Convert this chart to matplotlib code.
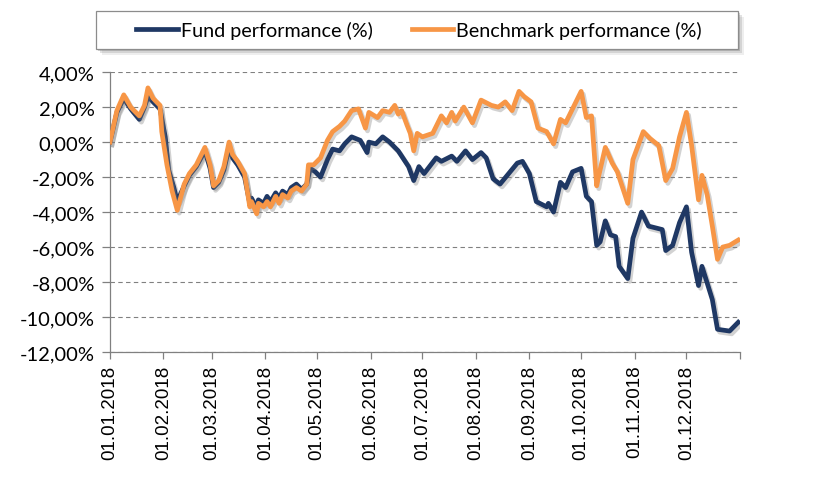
import pandas as pd
import matplotlib
matplotlib.use("Agg")
import matplotlib.pyplot as plt
import matplotlib.dates as mdates
import matplotlib.patheffects as pe
from matplotlib.patches import Rectangle
from matplotlib.ticker import FuncFormatter, FixedLocator

# fund performance (%)
fund_dates = [
    "2018-01-01", "2018-01-05", "2018-01-09", "2018-01-13", "2018-01-18", "2018-01-21",
    "2018-01-23", "2018-01-26", "2018-01-30", "2018-02-02", "2018-02-04", "2018-02-07",
    "2018-02-09", "2018-02-13", "2018-02-16", "2018-02-20", "2018-02-25", "2018-02-28",
    "2018-03-02", "2018-03-05", "2018-03-08", "2018-03-11", "2018-03-13", "2018-03-16",
    "2018-03-20", "2018-03-23", "2018-03-24", "2018-03-27", "2018-03-28", "2018-03-31",
    "2018-04-02", "2018-04-04", "2018-04-07", "2018-04-09", "2018-04-11", "2018-04-14",
    "2018-04-16", "2018-04-19", "2018-04-22", "2018-04-25", "2018-04-27", "2018-04-30",
    "2018-05-03", "2018-05-07", "2018-05-10", "2018-05-14", "2018-05-17", "2018-05-21",
    "2018-05-26", "2018-05-30", "2018-05-31", "2018-06-04", "2018-06-08", "2018-06-12",
    "2018-06-17", "2018-06-23", "2018-06-26", "2018-06-29", "2018-07-02", "2018-07-09",
    "2018-07-12", "2018-07-18", "2018-07-21", "2018-07-26", "2018-07-30", "2018-08-04",
    "2018-08-07", "2018-08-11", "2018-08-15", "2018-08-20", "2018-08-25", "2018-08-28",
    "2018-09-01", "2018-09-05", "2018-09-11", "2018-09-12", "2018-09-15", "2018-09-19",
    "2018-09-22", "2018-09-26", "2018-10-01", "2018-10-04", "2018-10-07", "2018-10-10",
    "2018-10-12", "2018-10-15", "2018-10-18", "2018-10-21", "2018-10-23", "2018-10-28",
    "2018-10-31", "2018-11-05", "2018-11-09", "2018-11-13", "2018-11-17", "2018-11-19",
    "2018-11-23", "2018-11-27", "2018-12-01", "2018-12-04", "2018-12-08", "2018-12-10",
    "2018-12-16", "2018-12-19", "2018-12-26", "2018-12-31",
]
fund_perf = [
    0.0, 1.7, 2.5, 1.9, 1.3, 2.0,
    2.6, 2.3, 1.9, 0.3, -1.6, -2.6,
    -3.4, -2.5, -1.9, -1.4, -0.5, -1.5,
    -2.6, -2.3, -1.6, -0.3, -0.9, -1.3,
    -2.0, -3.5, -3.2, -3.8, -3.3, -3.5,
    -3.1, -3.4, -2.9, -3.2, -2.8, -3.0,
    -2.6, -2.4, -2.7, -2.4, -1.5, -1.7,
    -2.0, -1.0, -0.4, -0.5, -0.1, 0.3,
    0.1, -0.6, 0.0, -0.1, 0.3, 0.0,
    -0.5, -1.4, -2.2, -1.4, -1.8, -0.9,
    -1.1, -0.8, -1.1, -0.5, -1.0, -0.6,
    -0.9, -2.1, -2.4, -1.8, -1.2, -1.1,
    -1.8, -3.4, -3.7, -3.5, -4.0, -2.3,
    -2.6, -1.7, -1.5, -3.1, -3.4, -5.9,
    -5.7, -4.5, -5.3, -5.4, -7.1, -7.8,
    -5.5, -4.0, -4.8, -4.9, -5.0, -6.2,
    -5.9, -4.6, -3.7, -6.3, -8.2, -7.1,
    -9.0, -10.7, -10.8, -10.3,
]

# benchmark performance (%)
bench_dates = [
    "2018-01-01", "2018-01-05", "2018-01-09", "2018-01-13", "2018-01-18", "2018-01-21",
    "2018-01-23", "2018-01-26", "2018-01-30", "2018-01-31", "2018-02-03", "2018-02-06",
    "2018-02-09", "2018-02-13", "2018-02-16", "2018-02-20", "2018-02-25", "2018-02-28",
    "2018-03-02", "2018-03-05", "2018-03-08", "2018-03-11", "2018-03-13", "2018-03-16",
    "2018-03-20", "2018-03-23", "2018-03-24", "2018-03-27", "2018-03-28", "2018-03-31",
    "2018-04-02", "2018-04-04", "2018-04-07", "2018-04-09", "2018-04-11", "2018-04-14",
    "2018-04-16", "2018-04-19", "2018-04-22", "2018-04-25", "2018-04-26", "2018-04-29",
    "2018-05-03", "2018-05-07", "2018-05-10", "2018-05-14", "2018-05-17", "2018-05-21",
    "2018-05-25", "2018-05-29", "2018-05-31", "2018-06-05", "2018-06-08", "2018-06-12",
    "2018-06-15", "2018-06-17", "2018-06-19", "2018-06-22", "2018-06-24", "2018-06-26",
    "2018-06-28", "2018-07-01", "2018-07-07", "2018-07-12", "2018-07-15", "2018-07-18",
    "2018-07-20", "2018-07-25", "2018-07-30", "2018-08-04", "2018-08-10", "2018-08-14",
    "2018-08-18", "2018-08-22", "2018-08-26", "2018-08-29", "2018-09-02", "2018-09-06",
    "2018-09-11", "2018-09-15", "2018-09-19", "2018-09-22", "2018-09-27", "2018-10-01",
    "2018-10-04", "2018-10-07", "2018-10-10", "2018-10-11", "2018-10-15", "2018-10-19",
    "2018-10-22", "2018-10-28", "2018-10-31", "2018-11-06", "2018-11-10", "2018-11-15",
    "2018-11-19", "2018-11-23", "2018-11-27", "2018-12-01", "2018-12-04", "2018-12-08",
    "2018-12-10", "2018-12-13", "2018-12-16", "2018-12-19", "2018-12-22", "2018-12-26",
    "2018-12-31",
]
bench_perf = [
    0.0, 1.8, 2.7, 2.0, 1.5, 2.1,
    3.1, 2.5, 2.1, 0.6, -1.3, -2.8,
    -3.9, -2.4, -1.8, -1.3, -0.3, -1.3,
    -2.5, -2.2, -1.4, 0.0, -0.7, -1.1,
    -1.8, -3.7, -3.4, -4.1, -3.5, -3.7,
    -3.4, -3.7, -3.1, -3.5, -3.0, -3.2,
    -2.8, -2.6, -2.8, -2.4, -1.3, -1.3,
    -0.9, 0.1, 0.6, 0.9, 1.2, 1.8,
    1.9, 0.8, 1.7, 1.4, 1.8, 1.7,
    2.1, 1.6, 1.8, 1.0, 0.5, -0.5,
    0.5, 0.3, 0.5, 1.5, 1.1, 1.7,
    1.2, 2.0, 1.1, 2.4, 2.1, 2.0,
    2.3, 1.8, 2.9, 2.6, 2.3, 0.8,
    0.6, -0.1, 1.3, 1.1, 2.1, 2.9,
    1.4, 1.5, -2.5, -2.0, -0.3, -1.2,
    -1.7, -3.5, -1.0, 0.6, 0.2, -0.2,
    -2.2, -1.5, 0.3, 1.7, -0.2, -3.3,
    -1.9, -3.0, -4.8, -6.7, -6.0, -5.9,
    -5.6,
]

month_ticks = pd.date_range("2018-01-01", "2019-01-01", freq="MS")
tick_labels = [d.strftime("%d.%m.%Y") for d in month_ticks[:-1]] + [""]

fund_x = pd.to_datetime(fund_dates)
bench_x = pd.to_datetime(bench_dates)

fig = plt.figure(figsize=(8.3, 4.81), dpi=100)
ax = fig.add_axes([0.1325, 0.266, 0.759, 0.582])

shadow = [pe.SimpleLineShadow(offset=(1.5, -2), shadow_color="#7f7f7f", alpha=0.35), pe.Normal()]
ax.plot(fund_x, fund_perf, color="#1f3864", lw=3.4, label="Fund performance (%)",
        path_effects=shadow, solid_joinstyle="round", zorder=3)
ax.plot(bench_x, bench_perf, color="#f79646", lw=3.4, label="Benchmark performance (%)",
        path_effects=shadow, solid_joinstyle="round", zorder=4)

ax.set_xlim(pd.Timestamp("2018-01-01"), pd.Timestamp("2019-01-01"))
ax.set_ylim(-12, 4)
ax.set_yticks(range(-12, 5, 2))
ax.yaxis.set_major_formatter(FuncFormatter(lambda v, p: f"{v:.2f}%".replace(".", ",")))
ax.xaxis.set_major_locator(FixedLocator(mdates.date2num(month_ticks)))
ax.set_xticklabels(tick_labels, rotation=90, fontsize=13.5, family="Liberation Sans")
for t in ax.get_yticklabels():
    t.set_fontfamily("Lato")
    t.set_fontsize(14.5)

ax.grid(axis="y", color="#808080", linestyle=(0, (4, 3)), lw=0.8)
ax.set_axisbelow(True)
for s in ["top", "right"]:
    ax.spines[s].set_visible(False)
for s in ["left", "bottom"]:
    ax.spines[s].set_color("#808080")
    ax.spines[s].set_linewidth(0.9)
ax.tick_params(axis="y", color="#808080", length=6, width=0.9, pad=5)
ax.tick_params(axis="x", color="#808080", length=5, width=0.9, pad=4)

# legend box with a soft shadow, drawn in figure pixels
bx, by, bw, bh = 96, 12, 642, 38
W, H = 830, 481
for k, a in [(6, 0.10), (4, 0.18), (2, 0.28)]:
    fig.patches.append(Rectangle(((bx + k) / W, 1 - (by + bh + k) / H), bw / W, bh / H,
                                 transform=fig.transFigure, facecolor="#606060",
                                 edgecolor="none", alpha=a, zorder=1))
fig.patches.append(Rectangle((bx / W, 1 - (by + bh) / H), bw / W, bh / H,
                             transform=fig.transFigure, facecolor="white",
                             edgecolor="#8c8c8c", lw=0.9, zorder=2))

leg = fig.legend(loc="center", bbox_to_anchor=(0.505, 0.935), ncol=2, frameon=False,
                 prop={"family": "Lato", "size": 14.2},
                 handlelength=2.1, handletextpad=0.15, columnspacing=2.0)
leg.set_zorder(5)
for line in leg.get_lines():
    line.set_linewidth(3.4)
    line.set_path_effects([])

fig.savefig("out.png", dpi=100)
